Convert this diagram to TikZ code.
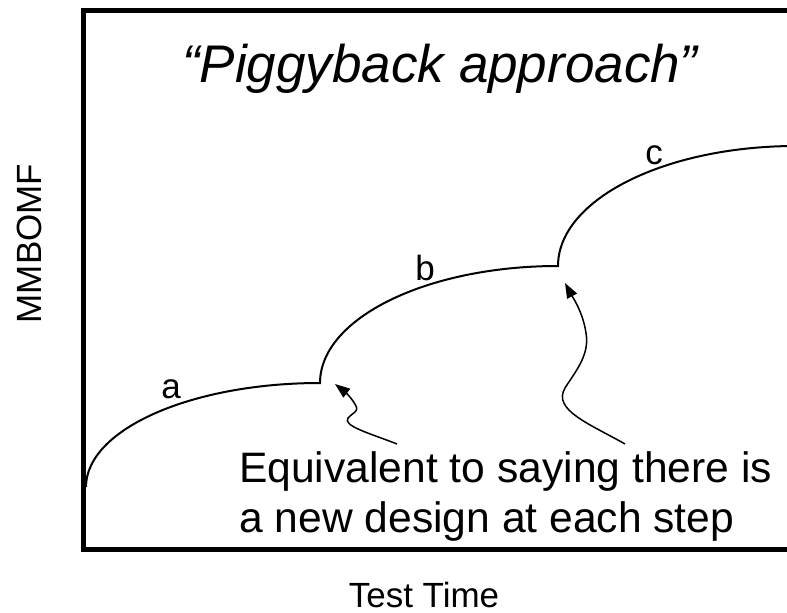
\documentclass[tikz,border=0pt]{standalone}
\usepackage{fontspec}
\setmainfont{Liberation Sans}
\usetikzlibrary{arrows.meta}
\begin{document}
\begin{tikzpicture}[x=1pt,y=-1pt,
  frame/.style={line width=5pt},
  curve/.style={line width=2pt},
  ptr/.style={line width=1.5pt,-{Triangle[length=15pt,width=11pt]}},
  lbl/.style={inner sep=0pt,font=\fontsize{35}{42}\selectfont},
  note/.style={inner sep=0pt,anchor=base west,font=\fontsize{42.6}{50}\selectfont}]
\useasboundingbox (0,0) rectangle (787,613);
\draw[frame] (83.5,10.5) rectangle (830,549.5);
% title
\node[inner sep=0pt,anchor=base,font=\fontsize{53}{60}\selectfont\itshape] (title) at (440,82) {“Piggyback approach”};
% axis labels
\node[lbl,rotate=90] (ylab) at (29.5,243.5) {MMBOMF};
\node[lbl,anchor=base] (xlab) at (424,607) {Test Time};
% curves
\coordinate (p0) at (86,487);
\coordinate (p1) at (320,383);
\coordinate (p2) at (558,266);
\coordinate (p3) at (796,146);
\draw[curve] (p0) .. controls +(0,-57.4) and +(-129.2,0) .. (p1)
             .. controls +(0,-64.6) and +(-131.4,0) .. (p2)
             .. controls +(0,-66.3) and +(-131.4,0) .. (p3);
\node[lbl] (la) at (171,389) {a};
\node[lbl] (lb) at (425,268) {b};
\node[lbl] (lc) at (654,155) {c};
% note
\node[note] (eq1) at (239,482) {Equivalent to saying there is};
\node[note] (eq2) at (239,532) {a new design at each step};
% arrows
\coordinate (t1) at (397,444);
\coordinate (h1) at (335,384);
\coordinate (t2) at (625,444);
\coordinate (h2) at (565,283);
\draw[ptr] (t1) .. controls (372,434) and (342,426) .. (348,418)
           .. controls (352,413) and (359,412) .. (356,406)
           .. controls (352,398) and (344,391) .. (h1);
\draw[ptr] (t2) .. controls (590,424) and (552,410) .. (565,388)
           .. controls (575,372) and (590,355) .. (586,333)
           .. controls (583,312) and (572,296) .. (h2);
\end{tikzpicture}
\end{document}
